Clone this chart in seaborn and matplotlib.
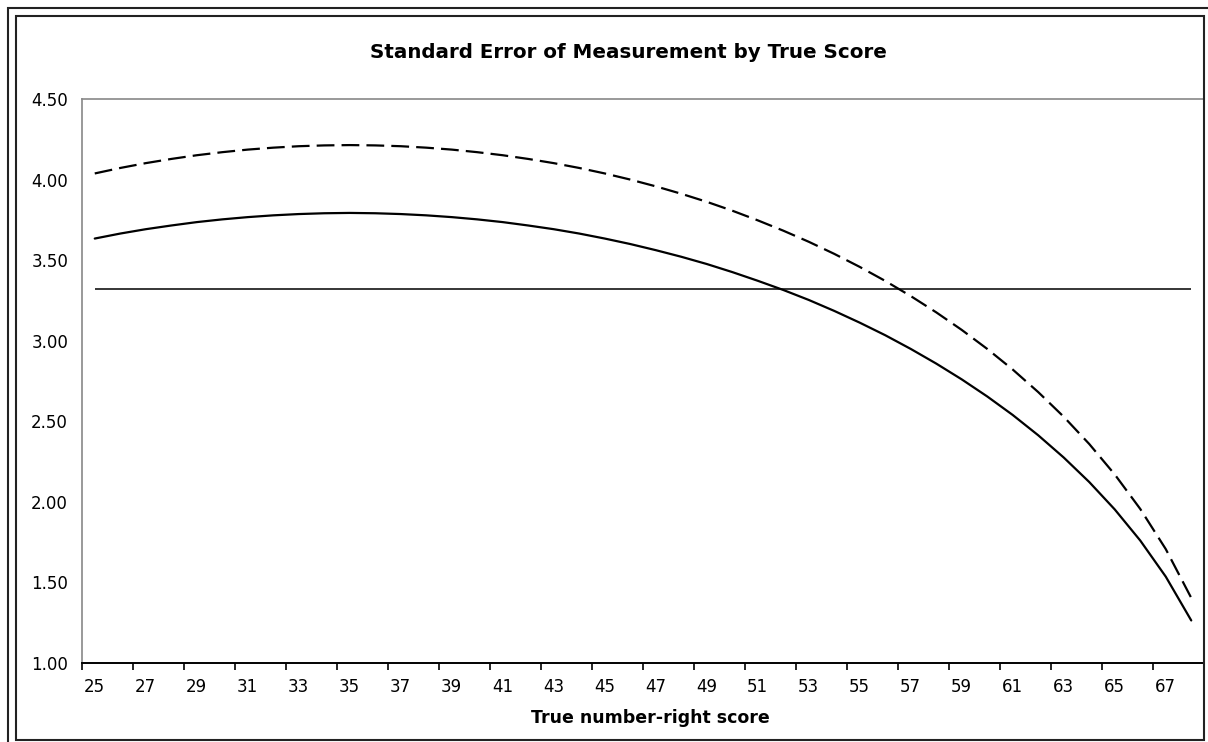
import matplotlib
matplotlib.use("Agg")
import matplotlib.pyplot as plt
import matplotlib.patches as mpatches
from matplotlib.ticker import FixedLocator, FixedFormatter, NullFormatter
import seaborn as sns
import pandas as pd

# ---- data ----
scores = list(range(25, 69))
sem_conditional = [3.634, 3.665, 3.692, 3.715, 3.736, 3.753, 3.767, 3.778, 3.786, 3.791,
                   3.793, 3.791, 3.786, 3.778, 3.767, 3.753, 3.736, 3.715, 3.692, 3.665,
                   3.634, 3.600, 3.562, 3.521, 3.476, 3.426, 3.372, 3.315, 3.253, 3.185,
                   3.112, 3.034, 2.949, 2.858, 2.760, 2.654, 2.539, 2.413, 2.275, 2.123,
                   1.953, 1.760, 1.536, 1.264]
sem_binomial = [4.038, 4.072, 4.102, 4.128, 4.151, 4.170, 4.186, 4.198, 4.207, 4.212,
                4.214, 4.212, 4.207, 4.198, 4.186, 4.170, 4.151, 4.128, 4.102, 4.072,
                4.038, 4.000, 3.958, 3.912, 3.862, 3.807, 3.747, 3.683, 3.614, 3.539,
                3.458, 3.371, 3.277, 3.176, 3.067, 2.949, 2.821, 2.681, 2.528, 2.359,
                2.170, 1.956, 1.707, 1.404]
sem_overall = 3.32
y_ticks = [1.00, 1.50, 2.00, 2.50, 3.00, 3.50, 4.00, 4.50]
x_tick_labels = [str(s) for s in scores[::2]]

title = "Standard Error of Measurement by True Score"
x_title = "True number-right score"

df = pd.DataFrame({"score": scores, "conditional": sem_conditional, "binomial": sem_binomial})

sns.set_theme(style="white")
plt.rcParams["font.family"] = ["DejaVu Sans"]

fig = plt.figure(figsize=(12.08, 7.42), dpi=100)
W, H = 1208, 742
ax = fig.add_axes([82 / W, 1 - 663 / H, (1204 - 82) / W, (663 - 99) / H])

sns.lineplot(data=df, x="score", y="binomial", ax=ax, color="black", linewidth=1.6,
             legend=False)
ax.lines[-1].set_linestyle((0, (8.0, 3.2)))
sns.lineplot(data=df, x="score", y="conditional", ax=ax, color="black", linewidth=1.6,
             legend=False)
ax.hlines(sem_overall, scores[0], scores[-1], color="black", linewidth=1.1)

ax.set_xlim(scores[0] - 0.5, scores[-1] + 0.5)
ax.set_ylim(y_ticks[0], y_ticks[-1])

# y axis
ax.set_yticks(y_ticks)
ax.set_yticklabels([f"{v:.2f}" for v in y_ticks])
ax.tick_params(axis="y", length=0, pad=10, labelsize=12, colors="black")

# x axis: tick marks between categories, labels at categories
major = [s - 0.5 for s in scores[::2]] + [scores[-1] + 0.5]
ax.xaxis.set_major_locator(FixedLocator(major))
ax.xaxis.set_major_formatter(NullFormatter())
ax.xaxis.set_minor_locator(FixedLocator(scores[::2]))
ax.xaxis.set_minor_formatter(FixedFormatter(x_tick_labels))
ax.tick_params(axis="x", which="major", direction="out", length=5, width=1.2,
               color="black", bottom=True)
ax.tick_params(axis="x", which="minor", length=0, pad=11, labelsize=12,
               labelcolor="black", bottom=True)

ax.set_xlabel("")
ax.set_ylabel("")

for side in ["left", "top", "right"]:
    ax.spines[side].set_color("#888888")
    ax.spines[side].set_linewidth(1.2)
ax.spines["bottom"].set_color("black")
ax.spines["bottom"].set_linewidth(1.4)

fig.text(370 / W, 1 - 52 / H, title, ha="left", va="center", fontsize=14.3,
         fontweight="bold", color="black")
fig.text(650 / W, 1 - 718 / H, x_title, ha="center", va="center", fontsize=12.5,
         fontweight="bold", color="black")

# chart frame (double border)
fig.patches.append(mpatches.Rectangle((8 / W, -0.1), 2.0, 1 - 8 / H + 0.1,
                                      transform=fig.transFigure, fill=False,
                                      edgecolor="#222222", linewidth=1.5))
fig.patches.append(mpatches.Rectangle((16 / W, 2 / H), (1204 - 16) / W, (740 - 16) / H,
                                      transform=fig.transFigure, fill=False,
                                      edgecolor="#222222", linewidth=1.5))

fig.savefig("out.png", dpi=100)
